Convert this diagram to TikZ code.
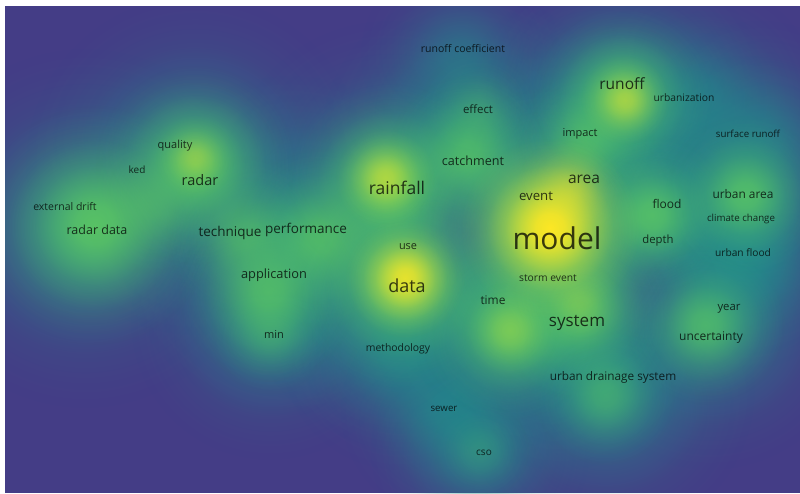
\documentclass[tikz,border=0pt]{standalone}
\usepackage{fontspec}
\setmainfont{Open Sans}
\usetikzlibrary{fadings}

\definecolor{bgpurple}{RGB}{68,61,134}
\definecolor{vblue}{RGB}{51,99,141}
\definecolor{vteal}{RGB}{33,145,140}
\definecolor{vgreen}{RGB}{94,201,98}
\definecolor{vyellow}{RGB}{253,231,37}

% Gaussian-like soft mask: opaque centre, transparent rim
\pgfdeclareradialshading{gaussglow}{\pgfpointorigin}{%
  color(0bp)=(white); color(4bp)=(black!10); color(8bp)=(black!36);
  color(12.5bp)=(black!66); color(17.5bp)=(black!88); color(21bp)=(black!95);
  color(25bp)=(black); color(50bp)=(black)}
\pgfdeclarefading{gaussfade}{\pgfuseshading{gaussglow}}

% glow at (x,y), radius, colour, peak opacity
\newcommand\glow[5]{\fill[#4,fill opacity=#5,path fading=gaussfade] (#1,#2) circle[radius=#3pt];}
% keyword label: name, x, y, size, text
\newcommand\kw[5]{\node[kw,font=\fontsize{#4}{#4}\selectfont,yshift={-0.3*#4pt}] (#1) at (#2,#3) {#5};}

\tikzset{kw/.style={anchor=base,inner sep=0pt,text=black,text opacity=0.75}}

\begin{document}
\begin{tikzpicture}[x=1pt,y=-1pt]
\useasboundingbox (0,0) rectangle (800,493);
\fill[white] (0,0) rectangle (800,493);
\fill[bgpurple] (5,6) rectangle (800,493);

\begin{scope}
\clip (5,6) rectangle (800,493);
% broad teal haze
\glow{85}{228}{180}{vteal}{0.85}
\glow{195}{165}{170}{vteal}{0.85}
\glow{290}{245}{170}{vteal}{0.85}
\glow{270}{320}{140}{vteal}{0.8}
\glow{390}{190}{170}{vteal}{0.85}
\glow{470}{140}{150}{vteal}{0.85}
\glow{460}{55}{100}{vteal}{0.5}
\glow{405}{290}{160}{vteal}{0.85}
\glow{400}{350}{120}{vteal}{0.7}
\glow{450}{410}{110}{vteal}{0.7}
\glow{480}{450}{110}{vteal}{0.7}
\glow{550}{240}{190}{vteal}{0.9}
\glow{600}{130}{150}{vteal}{0.85}
\glow{625}{95}{140}{vteal}{0.8}
\glow{700}{100}{120}{vteal}{0.6}
\glow{760}{140}{120}{vteal}{0.6}
\glow{660}{215}{150}{vteal}{0.85}
\glow{745}{205}{150}{vteal}{0.85}
\glow{745}{260}{110}{vteal}{0.7}
\glow{710}{320}{150}{vteal}{0.85}
\glow{605}{390}{150}{vteal}{0.85}
\glow{560}{320}{150}{vteal}{0.85}
\glow{500}{320}{130}{vteal}{0.8}
% low-density hollows
\glow{462}{232}{70}{vblue}{0.8}
\glow{648}{290}{70}{vblue}{0.7}
% green cores
\glow{95}{225}{120}{vgreen}{0.9}
\glow{150}{205}{70}{vgreen}{0.4}
\glow{195}{165}{100}{vgreen}{0.9}
\glow{245}{235}{80}{vgreen}{0.6}
\glow{320}{238}{90}{vgreen}{0.75}
\glow{268}{292}{90}{vgreen}{0.75}
\glow{270}{335}{60}{vgreen}{0.3}
\glow{388}{182}{100}{vgreen}{1}
\glow{468}{155}{80}{vgreen}{0.7}
\glow{403}{280}{110}{vgreen}{1}
\glow{548}{228}{140}{vgreen}{1}
\glow{585}{140}{70}{vgreen}{0.6}
\glow{622}{98}{90}{vgreen}{0.9}
\glow{510}{330}{90}{vgreen}{0.9}
\glow{580}{310}{90}{vgreen}{0.8}
\glow{652}{215}{80}{vgreen}{0.8}
\glow{745}{195}{80}{vgreen}{0.8}
\glow{705}{325}{80}{vgreen}{0.7}
\glow{605}{395}{70}{vgreen}{0.5}
\glow{478}{110}{60}{vgreen}{0.3}
\glow{480}{450}{50}{vgreen}{0.2}
% yellow peaks
\glow{550}{228}{90}{vyellow}{1}
\glow{405}{278}{60}{vyellow}{0.85}
\glow{385}{178}{50}{vyellow}{0.5}
\glow{625}{100}{45}{vyellow}{0.45}
\glow{195}{158}{40}{vyellow}{0.3}
\glow{570}{190}{55}{vyellow}{0.4}
\glow{510}{330}{50}{vyellow}{0.2}
\glow{580}{305}{45}{vyellow}{0.15}
\end{scope}

% keywords
\kw{kmodel}{557}{240}{30}{model}
\kw{kdata}{407}{287}{18}{data}
\kw{krainfall}{397}{189}{17.5}{rainfall}
\kw{ksystem}{577}{321}{17}{system}
\kw{kradar}{200}{181}{14.5}{radar}
\kw{karea}{584}{179}{15.5}{area}
\kw{krunoff}{622}{85}{15.5}{runoff}
\kw{ktechnique}{230}{232}{13.5}{technique}
\kw{kperformance}{306}{229}{13.5}{performance}
\kw{kevent}{536}{197}{13.2}{event}
\kw{kcatchment}{473}{162}{12.6}{catchment}
\kw{kradardata}{97}{231}{12.5}{radar data}
\kw{kapplication}{274}{275}{12.8}{application}
\kw{kuncertainty}{711}{337}{12}{uncertainty}
\kw{kuds}{613}{377}{11.8}{urban drainage system}
\kw{kflood}{667}{205}{12}{flood}
\kw{kurbanarea}{743}{195}{11.9}{urban area}
\kw{kdepth}{658}{240}{11.3}{depth}
\kw{ktime}{493}{301}{11.9}{time}
\kw{keffect}{478}{110}{11.4}{effect}
\kw{kimpact}{580}{133}{11}{impact}
\kw{kquality}{175}{145}{11}{quality}
\kw{kyear}{729}{307}{11.3}{year}
\kw{kmin}{274}{335}{11}{min}
\kw{kuse}{408}{246}{10.9}{use}
\kw{kked}{137}{170}{10}{ked}
\kw{kdrift}{65}{207}{10.5}{external drift}
\kw{kcoef}{463}{49}{10.5}{runoff coefficient}
\kw{kurbanization}{684}{98}{10.3}{urbanization}
\kw{ksurface}{748}{135}{9.7}{surface runoff}
\kw{kclimate}{741}{219}{9.7}{climate change}
\kw{kurbanflood}{743}{253}{10.2}{urban flood}
\kw{kstorm}{548}{278}{10.3}{storm event}
\kw{kmethod}{398}{348}{10.4}{methodology}
\kw{ksewer}{444}{409}{9.7}{sewer}
\kw{kcso}{484}{452}{10}{cso}
\end{tikzpicture}
\end{document}
